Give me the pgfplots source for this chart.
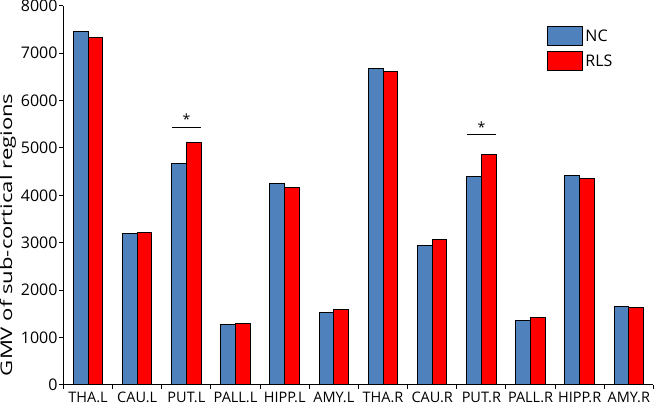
\documentclass[border=0pt]{standalone}
\usepackage{fontspec}
\setmainfont{Open Sans}
\newfontfamily\ylabfont[FakeStretch=1.38]{Open Sans}
\usepackage{pgfplots}
\pgfplotsset{compat=1.18}
\definecolor{ncblue}{RGB}{79,129,189}
\definecolor{rlsred}{RGB}{255,0,0}
\pgfplotsset{mylegend/.style={legend image code/.code={\draw[##1,line width=1pt] (0pt,-9.5pt) rectangle (35pt,9.5pt);}}}
\begin{document}
\begin{tikzpicture}
\begin{axis}[
  scale only axis, width=590pt, height=379pt,
  xmin=-0.5, xmax=11.5, ymin=0, ymax=8000,
  ybar=0pt, bar width=0.3,
  axis x line*=bottom, axis y line*=left,
  axis line style={line width=1.1pt, -},
  xtick={0,...,11},
  xticklabels={THA.L,CAU.L,PUT.L,PALL.L,HIPP.L,AMY.L,THA.R,CAU.R,PUT.R,PALL.R,HIPP.R,AMY.R},
  major x tick style={draw=none},
  minor xtick={-0.5,0.5,...,11.5},
  minor x tick style={line width=1pt, black},
  minor tick length=4pt,
  ytick={0,1000,...,8000},
  major y tick style={line width=1pt, black},
  major tick length=4pt,
  tick align=outside,
  scaled y ticks=false,
  /pgf/number format/assume math mode=true,
  /pgf/number format/1000 sep={},
  yticklabel style={font=\fontsize{16}{16}\selectfont, inner ysep=0pt, xshift=1.5pt},
  xticklabel style={font=\fontsize{14.5}{14.5}\selectfont, inner ysep=3pt},
  ylabel={GMV of sub-cortical regions},
  ylabel style={font=\ylabfont\fontsize{16}{16}\selectfont, inner sep=0pt,
    at={(axis description cs:-0.080,0.396)}, anchor=south},
  legend style={at={(0.82,0.947)}, anchor=north west, draw=none, fill=none,
    font=\fontsize{16}{16}\selectfont, row sep=5pt, inner sep=0pt},
  legend cell align=left,
]
\addplot+[fill=ncblue, draw=black, line width=1pt, mylegend]
  coordinates {(0,7460) (1,3195) (2,4670) (3,1270) (4,4260) (5,1537) (6,6675) (7,2935) (8,4406) (9,1368) (10,4421) (11,1655)};
\addplot+[fill=rlsred, draw=black, line width=1pt, mylegend]
  coordinates {(0,7335) (1,3215) (2,5122) (3,1298) (4,4175) (5,1592) (6,6612) (7,3058) (8,4870) (9,1425) (10,4364) (11,1636)};
\legend{NC,RLS}
\draw[line width=1pt] (axis cs:1.7,5440) -- (axis cs:2.3,5440);
\node[font=\fontsize{14}{14}\selectfont] at (axis cs:2,5600) {*};
\draw[line width=1pt] (axis cs:7.7,5285) -- (axis cs:8.3,5285);
\node[font=\fontsize{14}{14}\selectfont] at (axis cs:8,5440) {*};
\end{axis}
\end{tikzpicture}
\end{document}
